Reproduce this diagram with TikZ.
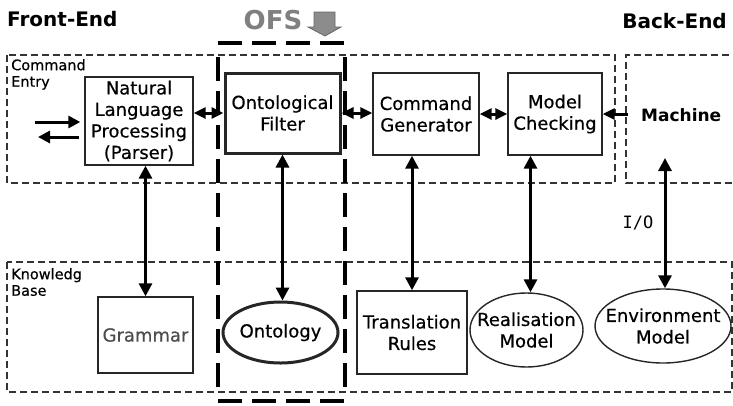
\documentclass[tikz,border=0pt]{standalone}
\usepackage{fontspec}
\setmainfont{DejaVu Sans}
\setmonofont{DejaVu Sans Mono}
\newfontfamily\heavysans{DejaVu Sans}[FakeBold=0.5]
\usetikzlibrary{arrows.meta,shapes.geometric}

\newcommand\boxfont{\heavysans\fontsize{18}{21.5}\selectfont}
\newcommand\zonefont{\heavysans\fontsize{14.5}{16.5}\selectfont}

\tikzset{
  zone/.style={draw=black!80, line width=1.1pt, dash pattern=on 7pt off 4pt},
  ofsline/.style={line width=3.4pt, dash pattern=on 24pt off 10pt},
  procbox/.style={draw=black!85, line width=1.4pt, align=center, font=\boxfont, inner sep=0pt},
  keybox/.style={procbox, line width=3pt},
  store/.style={ellipse, draw=black!85, line width=1.4pt, inner sep=0pt},
  lbl/.style={align=center, font=\boxfont, inner sep=0pt},
  zonelbl/.style={anchor=north west, align=left, font=\zonefont, inner sep=0pt},
  heading/.style={font=\bfseries\fontsize{20}{24}\selectfont, inner sep=0pt},
  link/.style={line width=3pt, {Triangle[length=13pt,width=13pt]}-{Triangle[length=13pt,width=13pt]}},
  shortlink/.style={line width=3pt, {Triangle[length=12pt,width=11pt]}-{Triangle[length=12pt,width=11pt]}},
  oneway/.style={line width=3pt, -{Triangle[length=12pt,width=12pt]}},
}

\begin{document}
\begin{tikzpicture}[x=1pt,y=-1pt]
\useasboundingbox (0,0) rectangle (733,405);

% headings
\node[heading, anchor=west] (fe) at (7,19) {Front-End};
\node[heading, anchor=east] (be) at (727,21) {Back-End};
\node[font=\bfseries\fontsize{26}{26}\selectfont, text=black!50, inner sep=0pt] (ofs) at (273,20) {OFS};
\fill[black!45, draw=black!60, line width=0.8pt]
  (314,12) -- (335,12) -- (335,27) -- (341,27) -- (325,36) -- (308,27) -- (314,27) -- cycle;

% dashed zones
\draw[zone] (7,55) rectangle (615,183);
\draw[zone] (740,55) -- (626,55) -- (626,183) -- (740,183);
\draw[zone] (7,262) rectangle (732,392);
\node[zonelbl] (cmdlbl) at (11,59) {Command\\Entry};
\node[zonelbl] (kblbl) at (11,268) {Knowledg\\Base};

% OFS frame
\draw[ofsline] (218,43) -- (345,43);
\draw[ofsline, dash phase=25pt] (218,48) -- (218,393);
\draw[ofsline, dash phase=25pt] (345,48) -- (345,393);
\draw[ofsline] (218,401) -- (345,401);

% upper row
\node[procbox, minimum width=108pt, minimum height=88pt] (nlp) at (139,121) {Natural\\Language\\Processing\\(Parser)};
\node[keybox, minimum width=115pt, minimum height=80pt] (filt) at (282.5,113) {Ontological\\Filter};
\node[procbox, minimum width=106pt, minimum height=82pt] (cg) at (426,114) {Command\\Generator};
\node[procbox, minimum width=94pt, minimum height=82pt] (mc) at (555,114) {Model\\Checking};
\node[font=\bfseries\fontsize{17}{20}\selectfont, anchor=west, inner sep=0pt] (mach) at (641,115) {Machine};

% lower row
\node[procbox, minimum width=95pt, minimum height=76pt, text=black!70] (gram) at (145.5,335) {Grammar};
\node[store, line width=3pt, minimum width=115pt, minimum height=61pt] (onto) at (280.5,332.5) {};
\node[lbl] at (onto) {Ontology};
\node[procbox, minimum width=110pt, minimum height=83pt] (rules) at (412,332.5) {Translation\\Rules};
\node[store, minimum width=113pt, minimum height=74pt] (real) at (526.5,330) {};
\node[lbl] at (real) {Realisation\\Model};
\node[store, minimum width=136pt, minimum height=74pt] (env) at (663,326) {};
\node[lbl] at (env) {Environment\\Model};

% user input / output
\coordinate (usrin) at (35,122);
\coordinate (usrout) at (38,137);
\draw[oneway, shorten >=4pt] (usrin) -- (usrin -| nlp.west);
\draw[oneway, shorten <=5pt] (usrout -| nlp.west) -- (usrout);

% horizontal links
\draw[shortlink] (filt.west -| nlp.east) -- (filt.west);
\draw[shortlink] (filt.east) -- (filt.east -| cg.west);
\draw[shortlink] (cg.east) -- (cg.east -| mc.west);
\draw[line width=3pt, {Triangle[length=12pt,width=11pt]}-, shorten >=13pt] (mc.east) -- (mc.east -| mach.west);

% vertical links
\draw[link] (nlp.south -| gram.north) -- (gram.north);
\draw[link] (filt.south) -- (filt.south |- onto.north);
\draw[link] (cg.south -| rules.north) -- (rules.north);
\coordinate (rtop) at ([xshift=4pt]real.north);
\draw[link] (mc.south -| rtop) -- (rtop);
\coordinate (io) at (665,158);
\draw[link] (io) -- (io |- env.north);
\node[font=\ttfamily\fontsize{17}{20}\selectfont, inner sep=0pt] (iolbl) at (638,223) {I/O};
\end{tikzpicture}
\end{document}
